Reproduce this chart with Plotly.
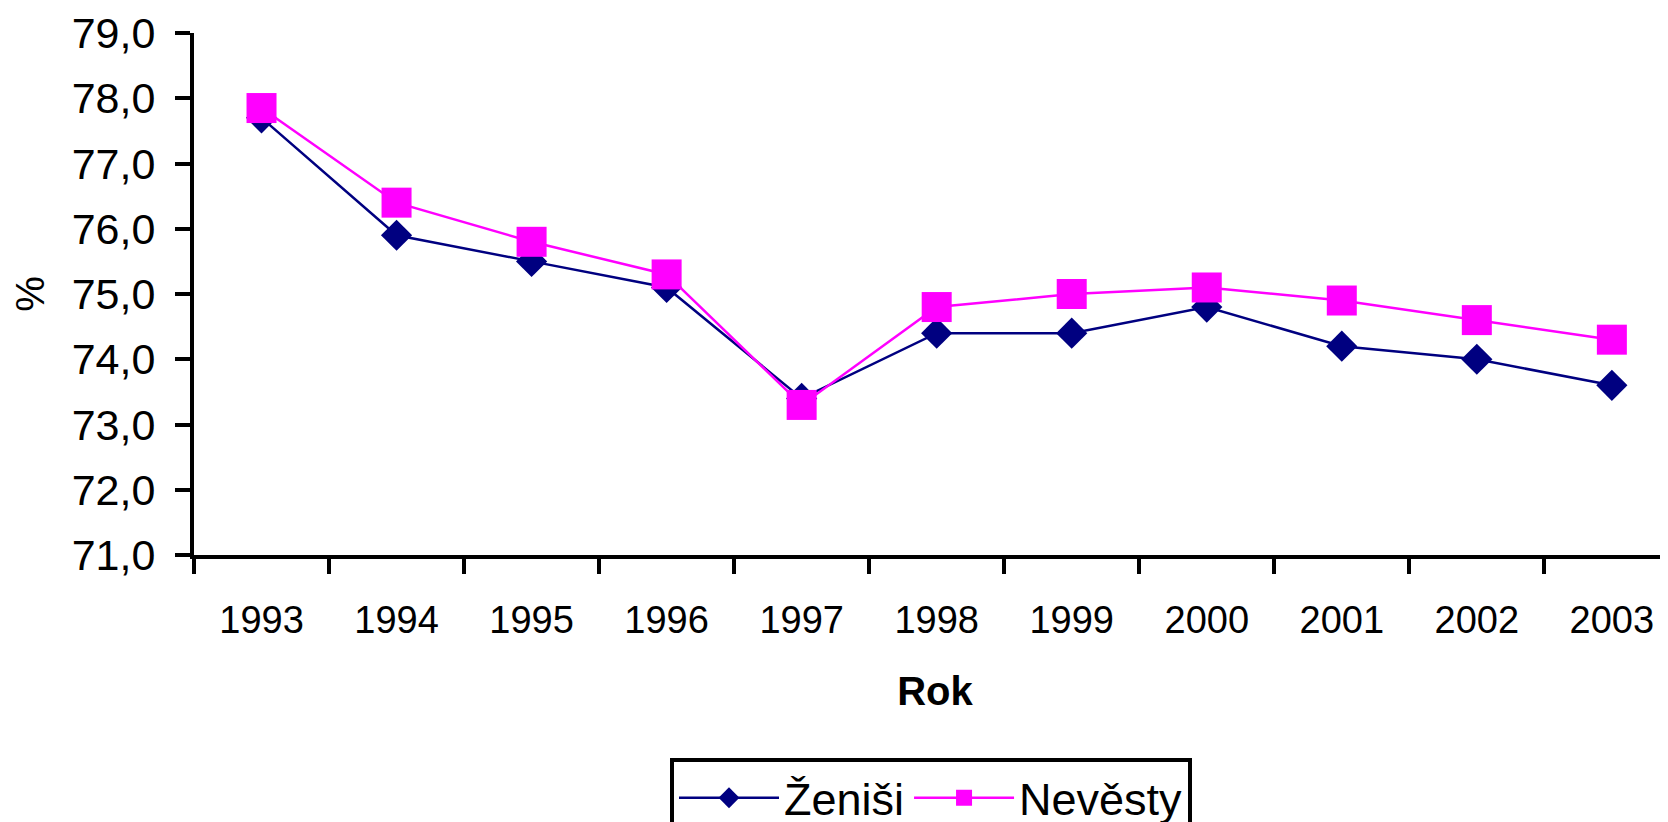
import plotly.graph_objects as go

years = ["1993", "1994", "1995", "1996", "1997", "1998", "1999", "2000", "2001", "2002", "2003"]
zenisi = [77.7, 75.9, 75.5, 75.1, 73.4, 74.4, 74.4, 74.8, 74.2, 74.0, 73.6]
nevesty = [77.85, 76.4, 75.8, 75.3, 73.3, 74.8, 75.0, 75.1, 74.9, 74.6, 74.3]
y_ticks = [71, 72, 73, 74, 75, 76, 77, 78, 79]

FONT = "Liberation Sans, Arial, sans-serif"

fig = go.Figure()
fig.add_trace(go.Scatter(
    x=years, y=zenisi, name="Ženiši", mode="lines+markers",
    line=dict(color="#000080", width=2.5),
    marker=dict(symbol="diamond", size=24, color="#000080"),
))
fig.add_trace(go.Scatter(
    x=years, y=nevesty, name="Nevěsty", mode="lines+markers",
    line=dict(color="#FF00FF", width=2.5),
    marker=dict(symbol="square", size=30, color="#FF00FF"),
))

fig.update_layout(
    width=1668, height=822,
    margin=dict(l=186, r=0, t=25, b=275),
    paper_bgcolor="white", plot_bgcolor="white",
    separators=", ",
    font=dict(family=FONT, size=40, color="black"),
    showlegend=True,
    legend=dict(
        orientation="h",
        xref="container", yref="container",
        x=662 / 1668, y=1 - 750 / 822,
        xanchor="left", yanchor="top",
        bordercolor="black", borderwidth=4,
        bgcolor="white",
        itemwidth=100,
        font=dict(family=FONT, size=45, color="black"),
    ),
    xaxis=dict(
        type="category",
        range=[-0.5, 10.475],
        tickson="boundaries",
        ticks="outside", ticklen=15, tickwidth=3.5, tickcolor="black",
        showline=True, linecolor="black", linewidth=4,
        showgrid=False, zeroline=False,
        ticklabelstandoff=28,
        tickfont=dict(family=FONT, size=38, color="black"),
        title=dict(text="<b>Rok</b>", font=dict(family=FONT, size=40, color="black"), standoff=38),
    ),
    yaxis=dict(
        range=[71, 79],
        tickvals=y_ticks,
        tickformat=".1f",
        ticks="outside", ticklen=15, tickwidth=3.5, tickcolor="black",
        showline=True, linecolor="black", linewidth=4,
        showgrid=False, zeroline=False,
        ticklabelstandoff=11,
        tickfont=dict(family=FONT, size=43, color="black"),
        title=dict(text="%", font=dict(family=FONT, size=40, color="black"), standoff=22),
    ),
)

fig.write_html("out.html")
